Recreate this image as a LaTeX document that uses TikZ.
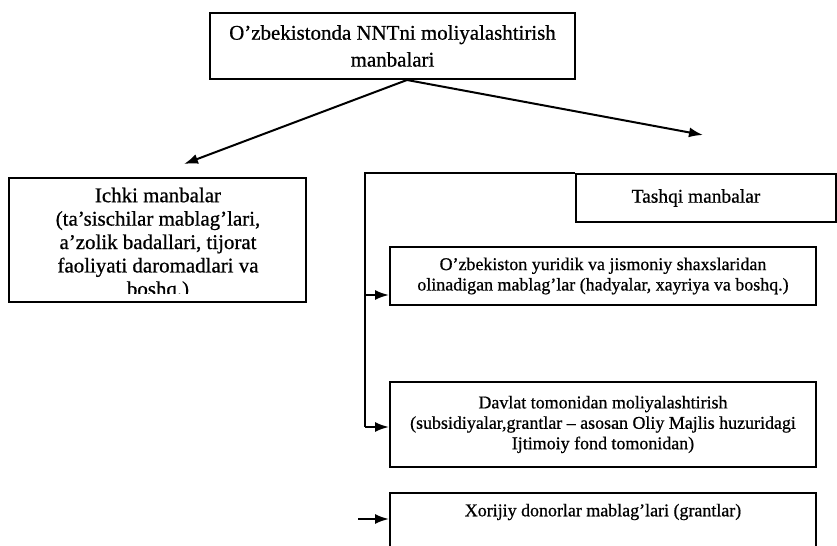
\documentclass[tikz,border=0pt]{standalone}
\usepackage{fontspec}
\setmainfont{Liberation Serif}[FakeBold=0.7]
\usetikzlibrary{arrows.meta,calc}
\begin{document}
\begin{tikzpicture}[x=1bp,y=-1bp,
  box/.style={draw, line width=2bp, inner sep=0pt},
  arr/.style={line width=2bp, -{Latex[length=14bp,width=10bp]}},
  fbig/.style={font=\fontsize{21}{23.5}\selectfont},
  ftop/.style={font=\fontsize{21}{27}\selectfont},
  fsm/.style={font=\fontsize{18}{20.5}\selectfont},
  ftq/.style={font=\fontsize{19.5}{21}\selectfont}]
\useasboundingbox (0,0) rectangle (837,546);
\clip (0,0) rectangle (837,546);

% top box
\node[box, ftop, align=center, minimum width=365bp, minimum height=66bp] (top) at (392.5,46)
  {O'zbekistonda NNTni moliyalashtirish\\manbalari};

% internal sources
\node[box, minimum width=297bp, minimum height=124bp] (ik) at (157.5,240) {};
\begin{scope}
  \clip (9,178) rectangle (306,294);
  \node[fbig, align=center, inner sep=0pt] (ikt) at (158,244)
    {Ichki manbalar\\(ta'sischilar mablag'lari,\\a'zolik badallari, tijorat\\faoliyati daromadlari va\\boshq.)};
\end{scope}

% external sources
\node[box, ftq, minimum width=260bp, minimum height=48bp] (tq) at (706,198) {Tashqi manbalar\hspace*{20bp}};

\node[box, fsm, align=center, minimum width=426bp, minimum height=58bp] (b1) at (603,276)
  {O'zbekiston yuridik va jismoniy shaxslaridan\\olinadigan mablag'lar (hadyalar, xayriya va boshq.)};

\node[box, fsm, align=center, minimum width=426bp, minimum height=85bp] (dv) at (603,424.5)
  {Davlat tomonidan moliyalashtirish\\(subsidiyalar,grantlar -- asosan Oliy Majlis huzuridagi\\Ijtimoiy fond tomonidan)};

\node[box, minimum width=426bp, minimum height=80bp] (xr) at (603,533) {};
\node[fsm, inner sep=0pt] (xrt) at ($(xr.north)+(0,20)$) {Xorijiy donorlar mablag'lari (grantlar)};

% arrows from top box
\coordinate (src) at ($(top.south)+(14.5,0)$);
\coordinate (lt) at (184,164);
\coordinate (rt) at (703,135);
\draw[arr] (src) -- (lt);
\draw[arr] (src) -- (rt);

% bracket
\coordinate (j1) at (365,295);
\coordinate (j2) at (365,427);
\draw[line width=2bp] (tq.north west) -| (j2);
\draw[arr] (j1) -- (j1 -| b1.west);
\draw[arr] (j2) -- (j2 -| dv.west);

\coordinate (xs) at (358,519);
\draw[arr] (xs) -- (xs -| xr.west);
\end{tikzpicture}
\end{document}
